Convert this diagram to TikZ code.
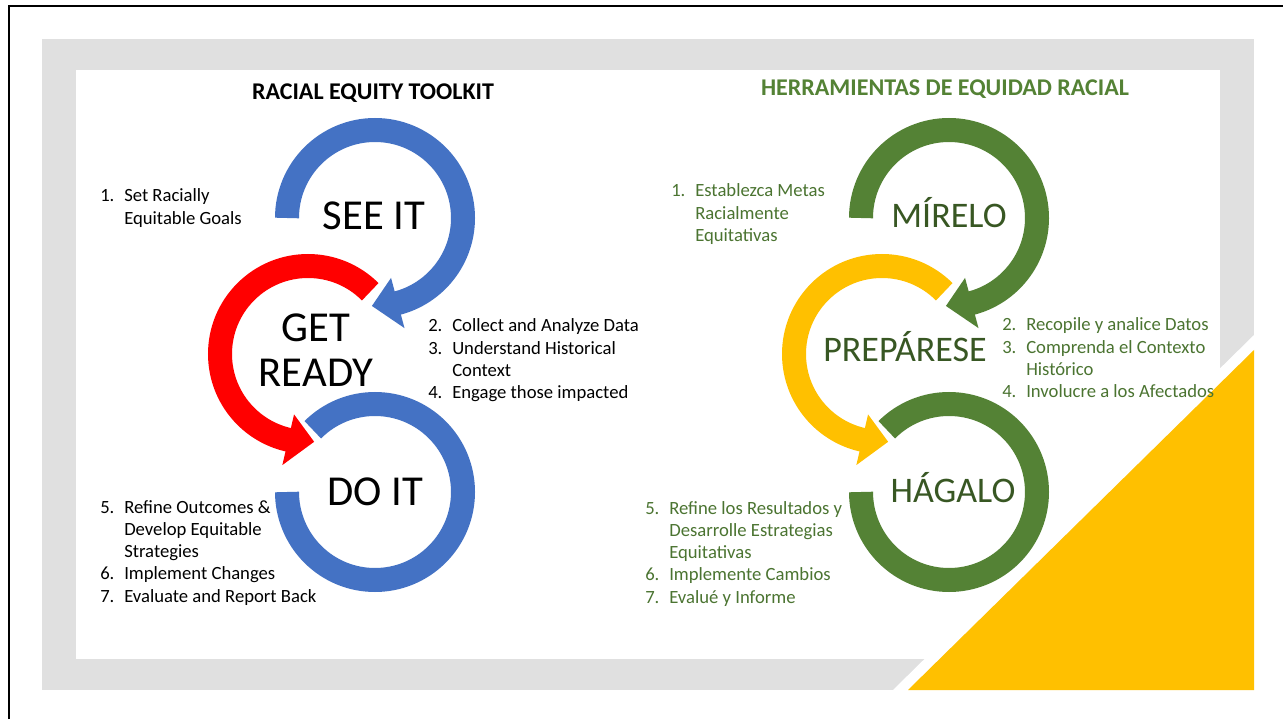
\documentclass[tikz,border=0pt]{standalone}
\usepackage{fontspec}
\setmainfont{Carlito}
\definecolor{eqblue}{HTML}{4472C4}
\definecolor{eqred}{HTML}{FF0000}
\definecolor{eqgreen}{HTML}{548235}
\definecolor{eqdkgreen}{HTML}{385723}
\definecolor{eqlist}{HTML}{4B7431}
\definecolor{eqyellow}{HTML}{FFC000}
% numbered steps with hanging indent
\newcommand{\steplist}[1]{\begin{tabular}[t]{@{}p{18pt}@{}l@{}}#1\end{tabular}}

\begin{document}
\begin{tikzpicture}[x=0.75pt,y=0.75pt,
    ring/.style={line width=18pt},
    big/.style={anchor=base,inner sep=0,font=\fontsize{32}{34}\selectfont},
    bigr/.style={anchor=base,inner sep=0,text=eqdkgreen,font=\fontsize{27}{30}\selectfont},
    steps/.style={anchor=base west,inner sep=0,font=\fontsize{14}{16.7}\selectfont},
    heading/.style={anchor=base,inner sep=0,font=\fontsize{18}{20}\selectfont\bfseries}]
    \useasboundingbox (0,0) rectangle (1283,719);

    % frame and background
    \draw[line width=2pt] (9,0) -- (9,713) -- (1283,713);
    \fill[gray!24] (42,29) rectangle (1254,680);
    \fill[white] (76,60) rectangle (1220,649);
    \fill[white] (893,29) -- (1254,29) -- (1254,384) -- cycle;
    \fill[eqyellow] (908,29) -- (1254,29) -- (1254,369) -- cycle;

    % ring centres
    \coordinate (see) at (375,501);
    \coordinate (ready) at (308,365);
    \coordinate (do) at (375,227);
    \coordinate (mirelo) at (949,501);
    \coordinate (preparese) at (882,365);
    \coordinate (hagalo) at (949,227);

    % left cycle
    \draw[ring,eqblue] (see) ++(180:88) arc[start angle=180,end angle=-76,radius=88];
    \fill[eqblue,shift={(see)}] (-75:62) -- (-75:114) -- (-92:88) -- cycle;
    \draw[ring,eqred] (ready) ++(45:88) arc[start angle=45,end angle=258,radius=88];
    \fill[eqred,shift={(ready)}] (257:62) -- (257:114) -- (274:88) -- cycle;
    \draw[ring,eqblue] (do) ++(135:88) arc[start angle=135,end angle=-180,radius=88];

    % right cycle
    \draw[ring,eqgreen] (mirelo) ++(180:88) arc[start angle=180,end angle=-76,radius=88];
    \fill[eqgreen,shift={(mirelo)}] (-75:62) -- (-75:114) -- (-92:88) -- cycle;
    \draw[ring,eqyellow] (preparese) ++(45:88) arc[start angle=45,end angle=258,radius=88];
    \fill[eqyellow,shift={(preparese)}] (257:62) -- (257:114) -- (274:88) -- cycle;
    \draw[ring,eqgreen] (hagalo) ++(135:88) arc[start angle=135,end angle=-180,radius=88];

    % titles
    \node[heading] (titleEN) at (373,619) {RACIAL EQUITY TOOLKIT};
    \node[heading,text=eqgreen] (titleES) at (945,623) {HERRAMIENTAS DE EQUIDAD RACIAL};

    % ring labels
    \node[big] (seeLbl) at (374,489) {SEE IT};
    \node[big] (readyLbl) at (316,377) {\begin{tabular}[t]{@{}c@{}}GET\\[-0.4pt]READY\end{tabular}};
    \node[big] (doLbl) at (375,214) {DO IT};
    \node[bigr] (mireloLbl) at (949,491) {MÍRELO};
    \node[bigr] (prepLbl) at (905,357) {PREPÁRESE};
    \node[bigr] (hagaloLbl) at (953,217) {HÁGALO};

    % step lists
    \node[steps] (stepsA) at (100,517) {\steplist{1. & Set Racially\\ & Equitable Goals}};
    \node[steps] (stepsB) at (428,387) {\steplist{2. & Collect and Analyze Data\\ 3. & Understand Historical\\ & Context\\ 4. & Engage those impacted}};
    \node[steps] (stepsC) at (100,206) {\steplist{5. & Refine Outcomes \&\\ & Develop Equitable\\ & Strategies\\ 6. & Implement Changes\\ 7. & Evaluate and Report Back}};
    \node[steps,text=eqlist] (pasosA) at (671,522) {\steplist{1. & Establezca Metas\\ & Racialmente\\ & Equitativas}};
    \node[steps,text=eqlist] (pasosB) at (1002,388) {\steplist{2. & Recopile y analice Datos\\ 3. & Comprenda el Contexto\\ & Histórico\\ 4. & Involucre a los Afectados}};
    \node[steps,text=eqlist] (pasosC) at (645,205) {\steplist{5. & Refine los Resultados y\\ & Desarrolle Estrategias\\ & Equitativas\\ 6. & Implemente Cambios\\ 7. & Evalué y Informe}};
\end{tikzpicture}
\end{document}
